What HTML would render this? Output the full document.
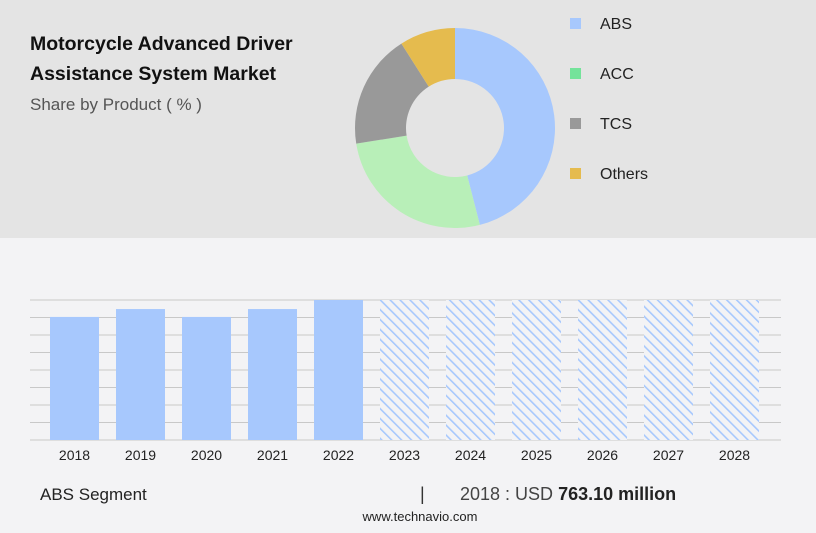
<!DOCTYPE html>
<html><head><meta charset="utf-8"><style>
body{margin:0;width:816px;height:528px;overflow:hidden;background:#f3f3f5;font-family:"Liberation Sans",sans-serif;}
</style></head><body>
<svg id="c" width="816" height="528" xmlns="http://www.w3.org/2000/svg">
<defs>
<pattern id="hatch" width="7" height="7" patternUnits="userSpaceOnUse" patternTransform="rotate(-45)">
<rect width="7" height="7" fill="#f3f3f5"/><rect x="0" y="0" width="1.6" height="7" fill="#a7c8fd"/>
</pattern>
<clipPath id="topclip"><rect x="0" y="0" width="816" height="228"/></clipPath>
</defs>
<rect x="0" y="0" width="816" height="238" fill="#e4e4e4"/>
<text x="30" y="50" font-size="19.5" font-weight="bold" fill="#111">Motorcycle Advanced Driver</text>
<text x="30" y="80" font-size="19.5" font-weight="bold" fill="#111">Assistance System Market</text>
<text x="30" y="110" font-size="17" fill="#555">Share by Product ( % )</text>
<g id="donut" clip-path="url(#topclip)"></g>
<g id="legend"></g>
<g id="grid"></g>
<g id="bars"></g>
<g id="xlabels"></g>
<text x="40" y="500" font-size="17" fill="#222">ABS Segment</text>
<text x="420" y="500" font-size="18" fill="#333">|</text>
<text x="460" y="500" font-size="18" fill="#444">2018 : USD <tspan font-weight="bold" fill="#222">763.10 million</tspan></text>
<text x="420" y="521" font-size="13" fill="#222" text-anchor="middle">www.technavio.com</text>
</svg>
<script>
const NS="http://www.w3.org/2000/svg";
const segments=["ABS","ACC","TCS","Others"];
const shares=[46,26.5,18.5,9];
const segColors=["#a7c8fd","#b8efb8","#999999","#e5bb4e"];
const legendColors=["#a7c8fd","#74e39a","#999999","#e5bb4e"];
const years=["2018","2019","2020","2021","2022","2023","2024","2025","2026","2027","2028"];
const values=[763.1,812,763,812,868,868,868,868,868,868,868];
const forecast=[false,false,false,false,false,true,true,true,true,true,true];
const yMax=868;
function mk(t,a,p){const e=document.createElementNS(NS,t);for(const k in a)e.setAttribute(k,a[k]);p.appendChild(e);return e;}
const dcx=455,dcy=128,R=100,r=49;const dg=document.getElementById('donut');
const tot=shares.reduce((a,b)=>a+b,0);let ang=0;
shares.forEach((s,i)=>{const a0=ang,a1=ang+s/tot*2*Math.PI;ang=a1;
const p=(rad,a)=>[dcx+rad*Math.sin(a),dcy-rad*Math.cos(a)];
const [px0,py0]=p(R,a0),[px1,py1]=p(R,a1),[px2,py2]=p(r,a1),[px3,py3]=p(r,a0);const lg=(a1-a0)>Math.PI?1:0;
const e=mk('path',{d:`M${px0},${py0}A${R},${R} 0 ${lg} 1 ${px1},${py1}L${px2},${py2}A${r},${r} 0 ${lg} 0 ${px3},${py3}Z`,fill:segColors[i]},dg);

});
const lgG=document.getElementById('legend');
segments.forEach((s,i)=>{const y=24+i*50;
const q=mk('rect',{x:570,y:y-6,width:11,height:11,fill:legendColors[i]},lgG);


const t=mk('text',{x:600,y:y+5,'font-size':16,fill:'#222'},lgG);t.textContent=s;

});
const baseY=440,topY=300,gx0=30,gx1=781;
const yS=v=>baseY-(v/yMax)*(baseY-topY);
const gg=document.getElementById('grid');
for(let i=0;i<=8;i++){const y=baseY-i*(baseY-topY)/8;
const l=mk('line',{x1:gx0,x2:gx1,y1:y,y2:y,stroke:'#c8c8c8','stroke-width':1},gg);

}
const bg=document.getElementById('bars'),xl=document.getElementById('xlabels');
years.forEach((yr,i)=>{const cxb=74.5+i*66,w=49;const y=yS(values[i]);
const b=mk('rect',{x:cxb-w/2,y:y,width:w,height:baseY-y,fill:forecast[i]?'url(#hatch)':'#a7c8fd'},bg);


const t=mk('text',{x:cxb,y:460,'font-size':14,fill:'#222','text-anchor':'middle'},xl);t.textContent=yr;

});
</script>
</body></html>
